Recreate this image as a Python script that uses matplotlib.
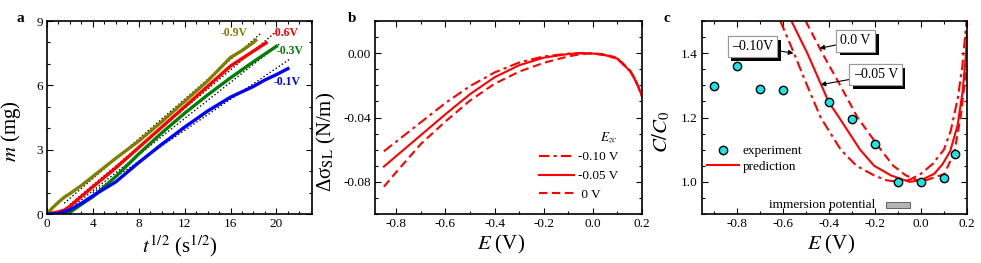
import matplotlib
matplotlib.use('Agg')
import matplotlib.pyplot as plt
from matplotlib import patheffects
from matplotlib.ticker import MultipleLocator, FormatStrFormatter
from matplotlib.patches import Rectangle

plt.rcParams['font.family'] = ['Liberation Serif', 'DejaVu Serif']
plt.rcParams['mathtext.fontset'] = 'stix'
plt.rcParams['axes.unicode_minus'] = False

# ---------------- panel a data ----------------
t_09 = [0, 0.5, 1, 1.5, 2, 3, 4, 6, 8, 10, 12, 14, 16, 17, 18, 18.2]
m_09 = [0, 0.3, 0.55, 0.78, 0.95, 1.33, 1.75, 2.6, 3.4, 4.3, 5.25, 6.2, 7.3, 7.62, 8.0, 8.1]
t_06 = [0, 1, 1.5, 2, 3, 4, 6, 8, 10, 12, 14, 16, 18, 19.1]
m_06 = [0, 0.1, 0.18, 0.36, 0.82, 1.27, 2.15, 3.1, 4.05, 5.0, 5.95, 6.9, 7.6, 7.98]
t_03 = [0, 1, 1.5, 2, 3, 4, 6, 8, 10, 12, 14, 16, 18, 20]
m_03 = [0, 0, 0.02, 0.08, 0.45, 0.8, 1.75, 2.8, 3.78, 4.7, 5.55, 6.35, 7.1, 7.82]
t_01 = [0, 1, 2, 3, 4, 6, 8, 10, 12, 14, 16, 18, 19, 20, 21]
m_01 = [0, 0.02, 0.2, 0.5, 0.85, 1.5, 2.4, 3.25, 4.05, 4.8, 5.45, 5.95, 6.25, 6.5, 6.78]
fit_t = [[1.5, 18.7], [2.0, 20.2], [2.5, 20.3], [4.0, 21.1]]
fit_m = [[0.5, 8.45], [0.45, 8.6], [0.45, 7.95], [1.0, 7.2]]
a_labels = ['-0.9V', '-0.6V', '-0.3V', '-0.1V']
a_colors = ['#808000', '#ff0000', '#008000', '#0000ff']
a_label_pos = [(16.33, 8.45), (20.8, 8.45), (21.2, 7.6), (20.9, 6.17)]

# ---------------- panel b data ----------------
E_b = [-0.85, -0.8, -0.7, -0.6, -0.5, -0.4, -0.3, -0.2, -0.1, -0.05, 0.0, 0.05,
       0.1, 0.15, 0.17, 0.19, 0.2]
ds_m010 = [-0.061, -0.055, -0.043, -0.031, -0.0205, -0.012, -0.0058, -0.002, -0.0003,
           0.0, -0.0002, -0.0012, -0.0035, -0.011, -0.016, -0.023, -0.027]
ds_m005 = [-0.0705, -0.064, -0.051, -0.038, -0.0255, -0.015, -0.0075, -0.0028, -0.0005,
           0.0, -0.0002, -0.0012, -0.0035, -0.011, -0.016, -0.023, -0.027]
ds_0 = [-0.083, -0.074, -0.0565, -0.0425, -0.0295, -0.019, -0.0115, -0.006, -0.002,
        -0.0006, 0.0, -0.0008, -0.003, -0.0105, -0.0155, -0.0225, -0.026]
b_labels = ['-0.10 V', '-0.05 V', ' 0 V']

# ---------------- panel c data ----------------
E_exp = [-0.9, -0.8, -0.7, -0.6, -0.4, -0.3, -0.2, -0.1, 0.0, 0.1, 0.15]
C_exp = [1.297, 1.359, 1.29, 1.284, 1.248, 1.194, 1.119, 1.0, 1.0, 1.012, 1.088]
E_c010 = [-0.61, -0.551, -0.5, -0.435, -0.348, -0.28, -0.203, -0.15, -0.1, -0.05,
          0.0, 0.05, 0.1, 0.13, 0.16, 0.18, 0.198]
C_c010 = [1.5, 1.4, 1.31, 1.2, 1.1, 1.05, 1.02, 1.005, 1.0, 1.006,
          1.025, 1.055, 1.1, 1.16, 1.26, 1.36, 1.5]
E_c005 = [-0.562, -0.493, -0.4, -0.355, -0.264, -0.203, -0.13, -0.05, 0.0, 0.058,
          0.094, 0.127, 0.159, 0.181, 0.196, 0.2]
C_c005 = [1.5, 1.4, 1.248, 1.2, 1.1, 1.05, 1.02, 1.0, 1.005, 1.025,
          1.055, 1.095, 1.175, 1.28, 1.40, 1.467]
E_c0 = [-0.5, -0.428, -0.35, -0.275, -0.174, -0.12, -0.065, 0.0, 0.043, 0.101,
        0.145, 0.174, 0.196, 0.2]
C_c0 = [1.5, 1.4, 1.3, 1.2, 1.1, 1.05, 1.02, 1.0, 1.01, 1.024,
        1.091, 1.209, 1.348, 1.40]
c_annot_text = ['\u20130.10V', '0.0 V', '\u20130.05 V']
c_annot_textpos = [(-0.73, 1.42), (-0.283, 1.438), (-0.196, 1.333)]
c_annot_head = [(-0.553, 1.40), (-0.44, 1.415), (-0.435, 1.302)]
immersion_range = [-0.152, -0.047]
immersion_C = [0.918, 0.938]

fig = plt.figure(figsize=(9.81, 2.63), dpi=100)
bottom, height = 0.1863, 0.7338
ax_a = fig.add_axes([0.0479, bottom, 0.2701, height])
ax_b = fig.add_axes([0.3823, bottom, 0.2722, height])
ax_c = fig.add_axes([0.7156, bottom, 0.2701, height])


def style(ax):
    ax.tick_params(which='both', direction='in', top=True, right=True,
                   labelsize=9.5, width=0.8, pad=3)
    ax.tick_params(which='major', length=4)
    ax.tick_params(which='minor', length=2)
    for s in ax.spines.values():
        s.set_linewidth(1.2)


# ---- panel a ----
for ft, fm in zip(fit_t, fit_m):
    ax_a.plot(ft, fm, ':', color='black', lw=1.0, zorder=1)
for t, m, c in zip([t_09, t_06, t_03, t_01], [m_09, m_06, m_03, m_01], a_colors):
    ax_a.plot(t, m, '-', color=c, lw=2.4, zorder=2)
for lab, c, (x, y) in zip(a_labels, a_colors, a_label_pos):
    ax_a.text(x, y, lab, color=c, fontsize=8.5, fontweight='bold',
              ha='center', va='center')
ax_a.set_xlim(0, 23.1)
ax_a.set_ylim(0, 9)
ax_a.xaxis.set_major_locator(MultipleLocator(4))
ax_a.xaxis.set_minor_locator(MultipleLocator(1))
ax_a.yaxis.set_major_locator(MultipleLocator(3))
ax_a.yaxis.set_minor_locator(MultipleLocator(1))
style(ax_a)
ax_a.set_xlabel(r'$t^{1/2}$ (s$^{1/2}$)', fontsize=15)
ax_a.set_ylabel(r'$m$ (mg)', fontsize=15)
ax_a.xaxis.set_label_coords(0.5, -0.10)
ax_a.yaxis.set_label_coords(-0.09, 0.43)

# ---- panel b ----
ax_b.plot(E_b, ds_m010, color='red', lw=1.5, linestyle=(0, (5, 2, 1.5, 2)), label=b_labels[0])
ax_b.plot(E_b, ds_m005, color='red', lw=1.5, linestyle='-', label=b_labels[1])
ax_b.plot(E_b, ds_0, color='red', lw=1.5, linestyle=(0, (4, 2.2)), label=b_labels[2])
ax_b.set_xlim(-0.886, 0.2)
ax_b.set_ylim(-0.1, 0.02)
ax_b.xaxis.set_major_locator(MultipleLocator(0.2))
ax_b.xaxis.set_minor_locator(MultipleLocator(0.1))
ax_b.yaxis.set_major_locator(MultipleLocator(0.04))
ax_b.yaxis.set_minor_locator(MultipleLocator(0.01))
ax_b.xaxis.set_major_formatter(FormatStrFormatter('%.1f'))
ax_b.yaxis.set_major_formatter(FormatStrFormatter('%.2f'))
style(ax_b)
leg = ax_b.legend(loc='lower right', bbox_to_anchor=(0.93, 0.04), frameon=False,
                  fontsize=9.5, handlelength=2.6, labelspacing=0.5, borderaxespad=0,
                  handletextpad=0.3, title=r'$E_{zc}$', title_fontsize=9.5,
                  alignment='right')
ax_b.set_xlabel(r'$E$ (V)', fontsize=15)
ax_b.set_ylabel('Δσ$_{\\mathrm{SL}}$ (N/m)', fontsize=15)
ax_b.xaxis.set_label_coords(0.47, -0.10)
ax_b.yaxis.set_label_coords(-0.139, 0.373)

# ---- panel c ----
ax_c.plot(E_c010, C_c010, color='red', lw=1.5, linestyle=(0, (5, 2, 1.5, 2)), zorder=2)
ax_c.plot(E_c005, C_c005, color='red', lw=1.5, linestyle='-', zorder=2, label='prediction')
ax_c.plot(E_c0, C_c0, color='red', lw=1.5, linestyle=(0, (4, 2.2)), zorder=2)
ax_c.plot(E_exp, C_exp, 'o', ms=6, mfc='#19e6e6', mec='black', mew=1.0,
          linestyle='none', zorder=3, label='experiment')
ax_c.add_patch(Rectangle((immersion_range[0], immersion_C[0]),
                         immersion_range[1] - immersion_range[0],
                         immersion_C[1] - immersion_C[0],
                         facecolor='#b4b4b4', edgecolor='#505050', lw=0.6, zorder=2))
ax_c.text(immersion_range[0] - 0.044, (immersion_C[0] + immersion_C[1]) / 2,
          'immersion potential', fontsize=9.5, ha='right', va='center')
for txt, tp, hp in zip(c_annot_text, c_annot_textpos, c_annot_head):
    an = ax_c.annotate(txt, xy=hp, xytext=tp, ha='center', va='center', fontsize=10,
                       bbox=dict(boxstyle='square,pad=0.3', fc='white', ec='0.6', lw=0.8),
                       arrowprops=dict(arrowstyle='-|>', color='black', lw=0.8,
                                       shrinkA=0, shrinkB=0, mutation_scale=7),
                       zorder=5)
    an.get_bbox_patch().set_path_effects([
        patheffects.withSimplePatchShadow(offset=(2.5, -2.5), shadow_rgbFace='black',
                                          alpha=1.0),
        patheffects.Normal()])
h, l = ax_c.get_legend_handles_labels()
ax_c.legend([h[1], h[0]], [l[1], l[0]], loc='upper left', bbox_to_anchor=(0.0, 0.385),
            frameon=False, fontsize=9.5, handlelength=2.4, borderaxespad=0,
            handletextpad=0.3, labelspacing=0.25)
ax_c.set_xlim(-0.95, 0.2)
ax_c.set_ylim(0.9, 1.5)
ax_c.xaxis.set_major_locator(MultipleLocator(0.2))
ax_c.xaxis.set_minor_locator(MultipleLocator(0.1))
ax_c.yaxis.set_major_locator(MultipleLocator(0.2))
ax_c.yaxis.set_minor_locator(MultipleLocator(0.05))
ax_c.xaxis.set_major_formatter(FormatStrFormatter('%.1f'))
ax_c.yaxis.set_major_formatter(FormatStrFormatter('%.1f'))
style(ax_c)
ax_c.set_xlabel(r'$E$ (V)', fontsize=15)
ax_c.set_ylabel(r'$C/C_0$', fontsize=15)
ax_c.xaxis.set_label_coords(0.486, -0.10)
ax_c.yaxis.set_label_coords(-0.113, 0.425)

# panel letters
fig.text(20 / 981, 1 - 19 / 263, 'a', fontsize=11, fontweight='bold', ha='center', va='center')
fig.text(352.5 / 981, 1 - 19 / 263, 'b', fontsize=11, fontweight='bold', ha='center', va='center')
fig.text(667 / 981, 1 - 18 / 263, 'c', fontsize=11, fontweight='bold', ha='center', va='center')

fig.savefig('out.png', dpi=100)
